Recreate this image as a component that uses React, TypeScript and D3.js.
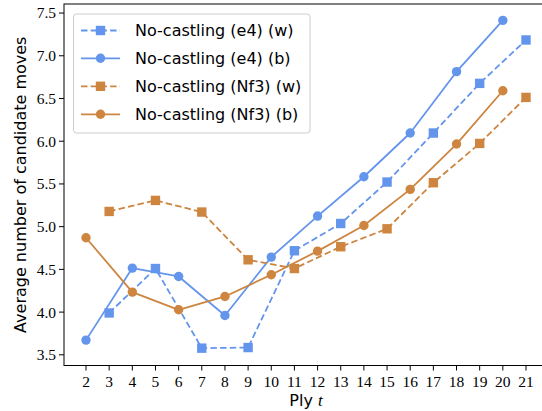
import React from "react";
import * as d3 from "d3";

const plyWhite = [3, 5, 7, 9, 11, 13, 15, 17, 19, 21];
const plyBlack = [2, 4, 6, 8, 10, 12, 14, 16, 18, 20];

const e4White = [3.99, 4.51, 3.578, 3.585, 4.718, 5.037, 5.522, 6.096, 6.677, 7.185];
const e4Black = [3.672, 4.515, 4.417, 3.96, 4.644, 5.124, 5.584, 6.096, 6.814, 7.414];
const nf3White = [5.178, 5.307, 5.171, 4.612, 4.51, 4.765, 4.975, 5.514, 5.974, 6.513];
const nf3Black = [4.87, 4.234, 4.027, 4.183, 4.437, 4.714, 5.014, 5.436, 5.967, 6.591];

const seriesNames = [
  "No-castling (e4) (w)",
  "No-castling (e4) (b)",
  "No-castling (Nf3) (w)",
  "No-castling (Nf3) (b)",
];

const xTicks = d3.range(2, 22);
const yTicks = [3.5, 4.0, 4.5, 5.0, 5.5, 6.0, 6.5, 7.0, 7.5];

const BLUE = "#6495ED";
const ORANGE = "#CD853F";

const W = 542;
const H = 411;
const left = 64;
const right = 548;
const top = 4;
const bottom = 365.5;

export default function App() {
  const x = d3.scaleLinear().domain([1.05, 21.95]).range([left, right]);
  const y = d3.scaleLinear().domain([3.375, 7.606]).range([bottom, top]);

  const series = [
    { name: seriesNames[0], xs: plyWhite, ys: e4White, color: BLUE, dashed: true, marker: "square" },
    { name: seriesNames[1], xs: plyBlack, ys: e4Black, color: BLUE, dashed: false, marker: "circle" },
    { name: seriesNames[2], xs: plyWhite, ys: nf3White, color: ORANGE, dashed: true, marker: "square" },
    { name: seriesNames[3], xs: plyBlack, ys: nf3Black, color: ORANGE, dashed: false, marker: "circle" },
  ];

  const line = d3
    .line<[number, number]>()
    .x((d) => x(d[0]))
    .y((d) => y(d[1]));

  const sq = 9.4;
  const r = 4.7;
  const dash = "6.5,3.2";
  const lw = 1.8;

  const marker = (kind: string, cx: number, cy: number, color: string, key: any) =>
    kind === "square" ? (
      <rect key={key} x={cx - sq / 2} y={cy - sq / 2} width={sq} height={sq} fill={color} />
    ) : (
      <circle key={key} cx={cx} cy={cy} r={r} fill={color} />
    );

  const legX = 73.5;
  const legY = 14;
  const legW = 236.5;
  const legH = 119;
  const rowY = [30.5, 58.3, 86.3, 114.3];

  return (
    <svg
      width={W}
      height={H}
      style={{ position: "absolute", left: 0, top: 0, background: "#fff" }}
      xmlns="http://www.w3.org/2000/svg"
    >
      <rect x={0} y={0} width={W} height={H} fill="#fff" />
      <defs>
        <clipPath id="plotclip">
          <rect x={left} y={top} width={right - left} height={bottom - top} />
        </clipPath>
      </defs>
      <g clipPath="url(#plotclip)">
        {series.map((s, i) => {
          const pts = s.xs.map((v, j) => [v, s.ys[j]] as [number, number]);
          return (
            <g key={i}>
              <path
                d={line(pts) || ""}
                fill="none"
                stroke={s.color}
                strokeWidth={lw}
                strokeDasharray={s.dashed ? dash : undefined}
                strokeLinejoin="round"
              />
              {pts.map((p, j) => marker(s.marker, x(p[0]), y(p[1]), s.color, j))}
            </g>
          );
        })}
      </g>
      {/* spines */}
      <rect x={left} y={top} width={right - left} height={bottom - top} fill="none" stroke="#000" strokeWidth={1} />
      {/* x ticks */}
      {xTicks.map((t) => (
        <g key={"x" + t}>
          <line x1={x(t)} x2={x(t)} y1={bottom} y2={bottom + 5} stroke="#000" strokeWidth={1} />
          <text
            x={x(t)}
            y={bottom + 21}
            textAnchor="middle"
            fontFamily="'Liberation Serif', serif"
            fontSize={15.5}
            fill="#000"
          >
            {t}
          </text>
        </g>
      ))}
      {/* y ticks */}
      {yTicks.map((t) => (
        <g key={"y" + t}>
          <line x1={left - 5} x2={left} y1={y(t)} y2={y(t)} stroke="#000" strokeWidth={1} />
          <text
            x={left - 8}
            y={y(t)}
            dy="0.35em"
            textAnchor="end"
            fontFamily="'Liberation Serif', serif"
            fontSize={15.5}
            fill="#000"
          >
            {d3.format(".1f")(t)}
          </text>
        </g>
      ))}
      {/* axis labels */}
      <text
        x={(left + right) / 2}
        y={406}
        textAnchor="middle"
        fontFamily="'DejaVu Sans', sans-serif"
        fontSize={16}
        fill="#000"
      >
        Ply{" "}
        <tspan fontFamily="'Liberation Serif', serif" fontStyle="italic" fontSize={17}>
          t
        </tspan>
      </text>
      <text
        transform={`translate(20, ${(top + bottom) / 2}) rotate(-90)`}
        textAnchor="middle"
        dominantBaseline="central"
        fontFamily="'DejaVu Sans', sans-serif"
        fontSize={16}
        fill="#000"
      >
        Average number of candidate moves
      </text>
      {/* legend */}
      <rect
        x={legX}
        y={legY}
        width={legW}
        height={legH}
        rx={3}
        ry={3}
        fill="#fff"
        fillOpacity={0.8}
        stroke="#ccc"
        strokeWidth={1}
      />
      {series.map((s, i) => (
        <g key={"leg" + i}>
          <line
            x1={81}
            x2={120}
            y1={rowY[i]}
            y2={rowY[i]}
            stroke={s.color}
            strokeWidth={lw}
            strokeDasharray={s.dashed ? dash : undefined}
          />
          {marker(s.marker, 100.5, rowY[i], s.color, "m")}
          <text
            x={135}
            y={rowY[i]}
            dy="0.36em"
            fontFamily="'DejaVu Sans', sans-serif"
            fontSize={16}
            fill="#000"
          >
            {s.name}
          </text>
        </g>
      ))}
    </svg>
  );
}
